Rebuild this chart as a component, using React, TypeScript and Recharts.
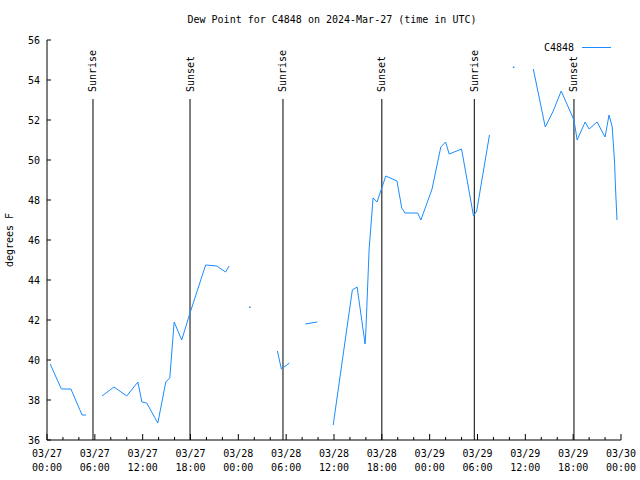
import React from "react";
import {
  LineChart,
  Line,
  XAxis,
  YAxis,
  ReferenceLine,
} from "recharts";

// hours since 03/27 00:00 UTC
const hours = [
  0.4, 1.8, 3.0, 4.4, 4.9, 5.9, 6.9, 8.4, 10.0, 11.4, 11.9, 12.5, 13.9, 14.9,
  15.4, 15.95, 16.9, 17.9, 19.9, 21.3, 22.4, 22.85, 24.0, 25.4, 27.0, 28.9,
  29.4, 30.4, 31.4, 32.4, 33.9, 34.9, 35.9, 38.3, 38.9, 39.9, 40.0, 40.4, 40.9,
  41.4, 42.5, 43.9, 44.5, 44.9, 46.5, 46.9, 48.3, 49.4, 50.0, 50.45, 52.0,
  53.5, 53.9, 55.5, 57.0, 58.5, 59.7, 61.0, 62.5, 63.5, 64.5, 66.1, 66.5, 67.5,
  68.0, 69.0, 70.0, 70.5, 70.9, 71.2, 71.3, 71.5,
];
const dewPoint: (number | null)[] = [
  39.8, 38.55, 38.55, 37.25, 37.25, null, 38.2, 38.65, 38.2, 38.9, 37.9, 37.85,
  36.85, 38.9, 39.1, 41.9, 41.0, 42.3, 44.75, 44.7, 44.4, 44.7, null, 42.65,
  null, 40.45, 39.55, 39.85, null, 41.8, 41.9, null, 36.75, 43.5, 43.65, 40.8,
  41.45, 45.5, 48.1, 47.9, 49.2, 48.95, 47.6, 47.35, 47.35, 47.0, 48.55, 50.65,
  50.9, 50.3, 50.55, 47.2, 47.45, 51.25, null, 54.65, null, 54.55, 51.65,
  52.45, 53.45, 52.0, 51.0, 51.9, 51.55, 51.9, 51.15, 52.25, 51.65, 49.85,
  48.7, 47.0,
];
const sunEvents = [
  { t: 5.77, label: "Sunrise" },
  { t: 17.94, label: "Sunset" },
  { t: 29.6, label: "Sunrise" },
  { t: 42.0, label: "Sunset" },
  { t: 53.6, label: "Sunrise" },
  { t: 66.1, label: "Sunset" },
];
const xTicks = Array.from({ length: 37 }, (_, i) => i * 2);
const xLabels = [
  ["03/27", "00:00"],
  ["03/27", "06:00"],
  ["03/27", "12:00"],
  ["03/27", "18:00"],
  ["03/28", "00:00"],
  ["03/28", "06:00"],
  ["03/28", "12:00"],
  ["03/28", "18:00"],
  ["03/29", "00:00"],
  ["03/29", "06:00"],
  ["03/29", "12:00"],
  ["03/29", "18:00"],
  ["03/30", "00:00"],
];
const yTicks = [36, 38, 40, 42, 44, 46, 48, 50, 52, 54, 56];

const data = hours.map((h, i) => ({ h, dew: dewPoint[i] }));

const FONT = "DejaVu Sans Mono";
const BLUE = "#1a8cff";

function isIsolated(i: number) {
  return (
    dewPoint[i] != null &&
    (i === 0 || dewPoint[i - 1] == null) &&
    (i === dewPoint.length - 1 || dewPoint[i + 1] == null)
  );
}

function BottomTick(props: any) {
  const { x, y, payload } = props;
  const major = payload.value % 6 === 0;
  const lbl = xLabels[payload.value / 6];
  return (
    <g>
      <line x1={x} x2={x} y1={y} y2={y - (major ? 6 : 3)} stroke="#000" />
      {major && lbl && (
        <text x={x} y={y + 17} textAnchor="middle" fontFamily={FONT} fontSize={10} fill="#000">
          <tspan x={x}>{lbl[0]}</tspan>
          <tspan x={x} dy={14}>{lbl[1]}</tspan>
        </text>
      )}
    </g>
  );
}

function TopTick(props: any) {
  const { x, y, payload } = props;
  const major = payload.value % 6 === 0;
  return <line x1={x} x2={x} y1={y} y2={y + (major ? 6 : 3)} stroke="#000" />;
}

function LeftTick(props: any) {
  const { x, y, payload } = props;
  return (
    <g>
      <line x1={x} x2={x + 4} y1={y} y2={y} stroke="#000" />
      <text x={x - 7} y={y + 4} textAnchor="end" fontFamily={FONT} fontSize={10} fill="#000">
        {payload.value}
      </text>
    </g>
  );
}

function RightTick(props: any) {
  const { x, y } = props;
  return <line x1={x} x2={x - 4} y1={y} y2={y} stroke="#000" />;
}

export default function App() {
  return (
    <div style={{ position: "absolute", left: 0, top: 0, width: 640, height: 480, background: "#fff" }}>
      <div
        style={{
          position: "absolute",
          top: 14,
          left: 0,
          width: 664,
          textAlign: "center",
          fontFamily: FONT,
          fontSize: 10,
        }}
      >
        Dew Point for C4848 on 2024-Mar-27 (time in UTC)
      </div>
      <div
        style={{
          position: "absolute",
          top: 42,
          left: 544,
          display: "flex",
          alignItems: "center",
          fontFamily: FONT,
          fontSize: 10,
          zIndex: 2,
        }}
      >
        <span>C4848</span>
        <span style={{ display: "inline-block", width: 29, height: 1, background: BLUE, marginLeft: 8 }} />
      </div>
      <LineChart
        width={640}
        height={480}
        data={data}
        margin={{ top: 40, right: 19, bottom: 0, left: 0 }}
      >
        <XAxis
          dataKey="h"
          type="number"
          domain={[0, 72]}
          ticks={xTicks}
          interval={0}
          height={40}
          tickSize={0}
          tickMargin={0}
          tickLine={false}
          axisLine={{ stroke: "#000" }}
          tick={<BottomTick />}
        />
        <XAxis
          xAxisId="top"
          orientation="top"
          dataKey="h"
          type="number"
          domain={[0, 72]}
          ticks={xTicks}
          interval={0}
          height={0}
          tickSize={0}
          tickMargin={0}
          tickLine={false}
          axisLine={{ stroke: "#000" }}
          tick={<TopTick />}
        />
        <YAxis
          type="number"
          domain={[36, 56]}
          ticks={yTicks}
          interval={0}
          width={47}
          tickSize={0}
          tickMargin={0}
          tickLine={false}
          axisLine={{ stroke: "#000" }}
          tick={<LeftTick />}
          label={() => (
            <text
              x={13}
              y={240}
              transform="rotate(-90 13 240)"
              textAnchor="middle"
              fontFamily={FONT}
              fontSize={10}
              fill="#000"
            >
              degrees F
            </text>
          )}
        />
        <YAxis
          yAxisId="right"
          orientation="right"
          type="number"
          domain={[36, 56]}
          ticks={yTicks}
          interval={0}
          width={0}
          tickSize={0}
          tickMargin={0}
          tickLine={false}
          axisLine={{ stroke: "#000" }}
          tick={<RightTick />}
        />
        {sunEvents.map((s, i) => (
          <ReferenceLine
            key={i}
            segment={[
              { x: s.t, y: 53.05 },
              { x: s.t, y: 36 },
            ]}
            stroke="#000"
            strokeWidth={1}
            label={(p: any) => {
              const vb = p.viewBox || {};
              const x = vb.x ?? 0;
              const y = (vb.y ?? 99) - 7;
              return (
                <text
                  x={x}
                  y={y}
                  transform={`rotate(-90 ${x} ${y})`}
                  textAnchor="start"
                  dominantBaseline="central"
                  fontFamily={FONT}
                  fontSize={10}
                  fill="#000"
                >
                  {s.label}
                </text>
              );
            }}
          />
        ))}
        <Line
          type="linear"
          dataKey="dew"
          name="C4848"
          stroke={BLUE}
          strokeWidth={1}
          connectNulls={false}
          isAnimationActive={false}
          activeDot={false}
          dot={(p: any) =>
            isIsolated(p.index) ? (
              <rect key={p.index} x={p.cx - 0.5} y={p.cy - 0.5} width={1.5} height={1.5} fill={BLUE} />
            ) : (
              <g key={p.index} />
            )
          }
        />
      </LineChart>
    </div>
  );
}
